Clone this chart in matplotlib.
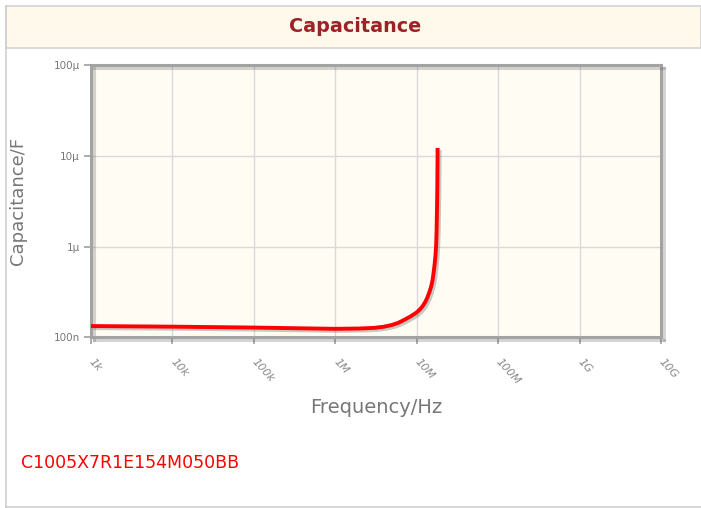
import matplotlib
matplotlib.use("Agg")
import matplotlib.pyplot as plt
import matplotlib.patheffects as pe
from matplotlib.patches import Rectangle
from matplotlib.lines import Line2D

# ---- data ----
freq_hz = [1e3, 1e4, 1e5, 1e6, 2e6, 3e6, 4e6, 5e6, 6e6, 7.05e6, 8.5e6, 1.0e7,
           1.1e7, 1.18e7, 1.28e7, 1.36e7, 1.44e7, 1.50e7, 1.56e7, 1.61e7, 1.66e7,
           1.70e7, 1.73e7, 1.755e7, 1.775e7, 1.79e7, 1.80e7, 1.805e7]
capacitance_f = [1.33e-7, 1.31e-7, 1.28e-7, 1.24e-7, 1.25e-7, 1.27e-7, 1.31e-7, 1.37e-7,
                 1.45e-7, 1.56e-7, 1.71e-7, 1.88e-7,
                 2.04e-7, 2.2e-7, 2.47e-7, 2.78e-7, 3.2e-7, 3.6e-7, 4.2e-7, 5.1e-7, 6.4e-7,
                 8.0e-7, 1.0e-6, 1.5e-6, 2.6e-6, 4.5e-6, 8.0e-6, 1.22e-5]
x_ticks = [1e3, 1e4, 1e5, 1e6, 1e7, 1e8, 1e9, 1e10]
x_tick_labels = ["1k", "10k", "100k", "1M", "10M", "100M", "1G", "10G"]
y_ticks = [1e-7, 1e-6, 1e-5, 1e-4]
y_tick_labels = ["100n", "1\u00b5", "10\u00b5", "100\u00b5"]
title = "Capacitance"
part_number = "C1005X7R1E154M050BB"

W, H = 701, 508
fig = plt.figure(figsize=(W / 100, H / 100), dpi=100)
fig.patch.set_facecolor("white")

def fx(px):
    return px / W

def fy(py):
    return 1 - py / H

# outer border lines
fig.add_artist(Line2D([fx(6), fx(6)], [fy(6), fy(506.5)], color="#cfcfcf", lw=1.2))
fig.add_artist(Line2D([fx(6), 1], [fy(506.5), fy(506.5)], color="#cfcfcf", lw=1.2))
# title band
fig.add_artist(Rectangle((fx(6), fy(47.5)), 1 - fx(6), fy(6) - fy(47.5),
                         transform=fig.transFigure, facecolor="#fef9eb",
                         edgecolor="#d3d3d3", lw=1.2))
fig.text(fx(355), fy(27), title, ha="center", va="center", fontsize=13.8,
         fontweight="bold", color="#9b2226")

# axes
left, right, top, bottom = 91, 661, 65, 337.3
ax = fig.add_axes([fx(left), fy(bottom), fx(right) - fx(left), fy(top) - fy(bottom)])
ax.set_facecolor("#fffcf3")
ax.set_xscale("log")
ax.set_yscale("log")
ax.set_xlim(1e3, 1e10)
ax.set_ylim(1e-7, 1e-4)
ax.set_xticks(x_ticks)
ax.set_xticklabels(x_tick_labels)
ax.set_yticks(y_ticks)
ax.set_yticklabels(y_tick_labels)
ax.minorticks_off()
ax.grid(True, color="#d9d9d9", lw=1.0)
ax.set_axisbelow(True)

for lbl in ax.get_xticklabels():
    lbl.set_rotation(-48)
    lbl.set_rotation_mode("anchor")
    lbl.set_ha("left")
    lbl.set_va("center")
    lbl.set_fontsize(8)
    lbl.set_color("#888888")
    lbl.set_fontstyle("italic")
for lbl in ax.get_yticklabels():
    lbl.set_fontsize(7.5)
    lbl.set_color("#777777")

ax.tick_params(axis="x", length=5, width=1.2, color="#a0a0a0", pad=11)
ax.tick_params(axis="y", length=5, width=1.2, color="#a0a0a0", pad=3)

shadow = [pe.SimpleLineShadow(offset=(2, -2), alpha=0.25, shadow_color="#555555"), pe.Normal()]
for s in ax.spines.values():
    s.set_color("#a3a3a3")
    s.set_linewidth(2.2)
    s.set_path_effects(shadow)

ax.plot(freq_hz, capacitance_f, color="#ff0000", lw=2.8, solid_capstyle="butt",
        path_effects=[pe.SimpleLineShadow(offset=(1.5, -1.5), alpha=0.35, shadow_color="#666666"),
                      pe.Normal()], zorder=3)

ax.set_xlabel("Frequency/Hz", fontsize=14, color="#777777", labelpad=9)
ax.set_ylabel("Capacitance/F", fontsize=13, color="#777777", labelpad=19)

fig.text(fx(21), fy(463), part_number, ha="left", va="center", fontsize=12.5, color="#ff0000")

fig.savefig("out.png", dpi=100)
